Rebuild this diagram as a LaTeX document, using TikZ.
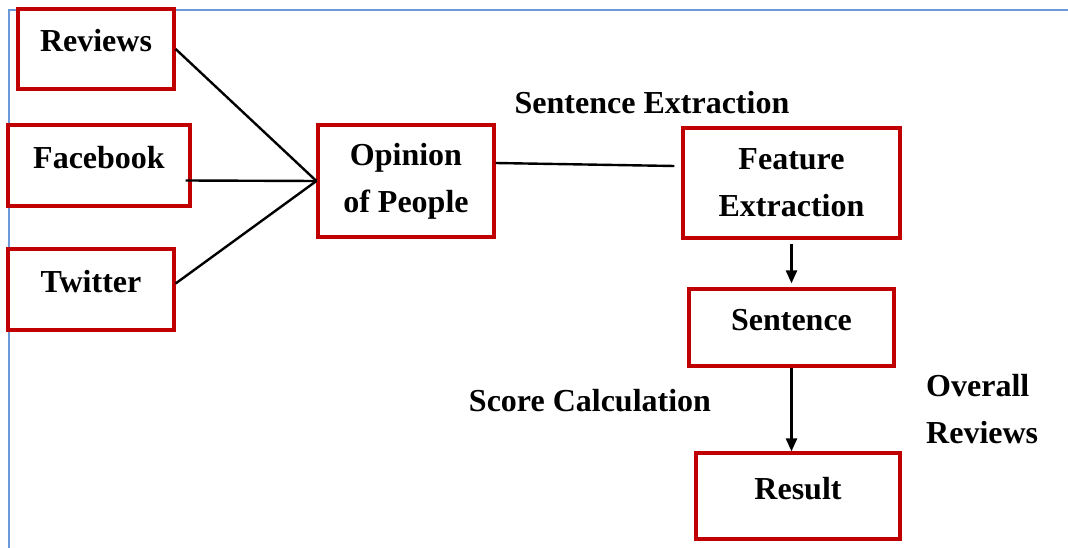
\documentclass[tikz,border=0pt]{standalone}
\usepackage{fontspec}
\setmainfont{Liberation Serif}
\usetikzlibrary{arrows.meta}
\definecolor{boxred}{HTML}{C00000}
\definecolor{frameblue}{HTML}{6A9BD8}
\begin{document}
\begin{tikzpicture}[x=1pt, y=-1pt, line width=2.4pt, >={Triangle[length=13pt,width=11pt]}, main node/.style={rectangle,draw=boxred,line width=3.2pt,inner sep=0pt,align=center,font=\fontsize{32}{47}\selectfont\bfseries}, upper text/.style={text height=22pt,text depth=16pt}, plain text/.style={inner sep=0pt,font=\fontsize{32}{47}\selectfont\bfseries}]
\useasboundingbox (0,0) rectangle (1068,548);
\draw[frameblue,line width=1.5pt] (9,548) -- (9,10) -- (1068,10);
\begin{scope}
\node[main node,upper text,minimum width=156,minimum height=80] (reviews) at (96,49) {Reviews};
\node[main node,upper text,minimum width=182,minimum height=81] (facebook) at (99,165.5) {Facebook};
\node[main node,upper text,minimum width=166,minimum height=81] (twitter) at (91,289.5) {Twitter};
\node[main node,minimum width=176,minimum height=112] (opinion) at (406,181) {Opinion\\of People};
\node[main node,minimum width=217,minimum height=110] (feature) at (791.5,183) {Feature\\Extraction};
\node[main node,upper text,minimum width=205,minimum height=77] (sentence) at (791.5,327.5) {Sentence};
\node[main node,upper text,minimum width=204,minimum height=86] (result) at (798,496) {Result};
%labels
\node[plain text] (sentextr) at (652,103) {Sentence Extraction};
\node[plain text] (score) at (590,401) {Score Calculation};
\node[plain text,anchor=west,align=left] (overall) at (925,409) {Overall\\Reviews};
\end{scope}
\begin{scope}
\draw (reviews.east) -- (opinion.west);
\draw ([xshift=-6,yshift=-15]facebook.east) -- (opinion.west);
\draw ([yshift=6]twitter.east) -- (opinion.west);
\draw ([yshift=18]opinion.east) -- ([xshift=-7,yshift=17]feature.west);
\draw[->] ([yshift=-4]feature.south) -- ([yshift=4]sentence.north);
\draw[->] (sentence.south) -- (sentence.south |- result.north);
\end{scope}
\end{tikzpicture}
\end{document}
